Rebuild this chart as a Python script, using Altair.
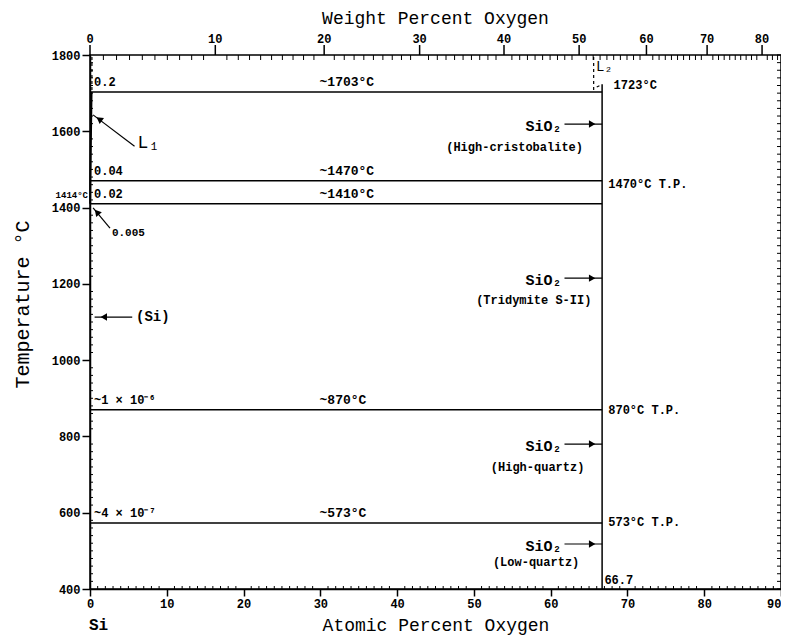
import altair as alt
import pandas as pd

FONT = "Liberation Mono"

# ---------------- data (at.% O, °C) ----------------
iso_T = [1703, 1470, 1410, 870, 573]          # invariant / transition lines
iso_x0 = [0, 0, 0, 0, 0]
iso_x1 = [66.7, 66.7, 66.7, 66.7, 66.7]
lab_left = ["0.2", "0.04", "0.02", "~1 × 10⁻⁶", "~4 × 10⁻⁷"]
lab_mid = ["~1703°C", "~1470°C", "~1410°C", "~870°C", "~573°C"]

sio2_x = [66.7, 66.7]
sio2_T = [400, 1723]

right_labels = ["1723°C", "1470°C T.P.", "870°C T.P.", "573°C T.P.", "66.7"]
right_x = [68.2, 67.5, 67.5, 67.5, 67.0]
right_T = [1721, 1462, 869, 576, 424]

# Si-side liquidus (L1)
liq_x = [0.2, 0.04, 0.02]
liq_T = [1703, 1470, 1410]

# dashed boundaries
dash_id = ["a", "a", "b", "b", "c", "c"]
dash_x = [0.25, 0.25, 65.6, 65.6, 66.0, 66.7]
dash_T = [1795, 1703, 1795, 1705, 1716, 1723]

# arrows (start -> end), heads
arr_x1 = [5.8, 2.6, 5.5, 61.8, 61.8, 61.8, 61.8]
arr_T1 = [1561, 1346, 1113, 1619, 1215, 780, 518]
arr_x2 = [0.4, 0.4, 0.6, 66.7, 66.7, 66.7, 66.7]
arr_T2 = [1643, 1399, 1113, 1619, 1215, 780, 518]
head_x = [1.2, 0.9, 1.8, 65.4, 65.4, 65.4, 65.4]
head_T = [1632, 1388, 1113, 1619, 1215, 780, 518]
head_angle = [306, 319, 270, 90, 90, 90, 90]

sio2_T_lab = [1619, 1215, 780, 518]
phase_names = ["(High-cristobalite)", "(Tridymite S-II)", "(High-quartz)", "(Low-quartz)"]
phase_x = [55.3, 57.8, 58.3, 58.1]
phase_T = [1559, 1158, 720, 471]

# ticks
x_major = list(range(0, 91, 10))
x_minor = [v for v in range(0, 91) if v % 10]
y_major = list(range(400, 1801, 200))
y_minor = [v for v in range(400, 1801, 20) if v % 200]
y_right = list(range(400, 1801, 20))
wt_major = list(range(0, 81, 10))
wt_minor = [v for v in range(1, 84) if v % 10]


def wt_to_at(w):
    return (w / 16.0) / ((w / 16.0) + (100.0 - w) / 28.0855) * 100.0


W, H = 691, 534
xs = alt.Scale(domain=[0, 90], nice=False, zero=False)
ys = alt.Scale(domain=[400, 1800], nice=False, zero=False)

AX = alt.Axis(
    values=x_major, format="d", tickSize=7, labelFontSize=12, labelPadding=2, labelFlush=False,
    labelAlign={"condition": {"test": "datum.value >= 90", "value": "right"}, "value": "center"},
    labelOverlap=False, title="Atomic Percent Oxygen", titleFontSize=18,
    titleFontWeight="normal", titleX=W / 2, titleY=36, titleBaseline="middle",
    grid=False)
AY = alt.Axis(
    values=y_major, format="d", tickSize=8, labelFontSize=12, labelPadding=2, labelFlush=False,
    labelOverlap=False, title="Temperature °C", titleFontSize=20,
    titleFontWeight="normal", titleX=-68, titleY=249, titleAngle=270,
    titleAlign="center", titleBaseline="middle", grid=False)


def X(f):
    return alt.X(f, scale=xs, axis=AX)


def Y(f):
    return alt.Y(f, scale=ys, axis=AY)


txt = dict(font=FONT, fontWeight="bold", color="black")

iso = pd.DataFrame({"x0": iso_x0, "x1": iso_x1, "T": iso_T, "left": lab_left, "mid": lab_mid})

lines = alt.Chart(iso).mark_rule(color="black", strokeWidth=1.5).encode(
    x=X("x0:Q"), x2="x1:Q", y=Y("T:Q"))

left_lab = alt.Chart(iso).mark_text(align="left", baseline="bottom", dx=4, dy=-3, fontSize=12, **txt).encode(
    x=X("x0:Q"), y=Y("T:Q"), text="left:N")
mid_lab = alt.Chart(iso.assign(xm=29.9)).mark_text(align="left", baseline="bottom", dy=-3, fontSize=13, **txt).encode(
    x=X("xm:Q"), y=Y("T:Q"), text="mid:N")

sio2 = alt.Chart(pd.DataFrame({"x": sio2_x, "T": sio2_T})).mark_line(color="black", strokeWidth=1.5).encode(
    x=X("x:Q"), y=Y("T:Q"))

liq = alt.Chart(pd.DataFrame({"x": liq_x, "T": liq_T})).mark_line(color="black", strokeWidth=2).encode(
    x=X("x:Q"), y=Y("T:Q"))

dash = alt.Chart(pd.DataFrame({"id": dash_id, "x": dash_x, "T": dash_T})).mark_line(
    color="black", strokeWidth=1.2, strokeDash=[3, 3]).encode(
    x=X("x:Q"), y=Y("T:Q"), detail="id:N")

right_lab = alt.Chart(pd.DataFrame({"x": right_x, "T": right_T, "t": right_labels})).mark_text(
    align="left", baseline="middle", fontSize=12, **txt).encode(
    x=X("x:Q"), y=Y("T:Q"), text="t:N")

arr = pd.DataFrame({"x1": arr_x1, "T1": arr_T1, "x2": arr_x2, "T2": arr_T2})
arrows = alt.Chart(arr).mark_rule(color="black", strokeWidth=1.2).encode(
    x=X("x1:Q"), x2="x2:Q", y=Y("T1:Q"), y2="T2:Q")
heads = alt.Chart(pd.DataFrame({"x": head_x, "T": head_T, "a": head_angle})).mark_point(
    shape="triangle-up", filled=True, color="black", size=55, opacity=1).encode(
    x=X("x:Q"), y=Y("T:Q"), angle=alt.Angle("a:Q", scale=None))

sio2_lab = alt.Chart(pd.DataFrame({"x": [61.4] * 4, "T": sio2_T_lab, "t": ["SiO₂"] * 4})).mark_text(
    align="right", baseline="middle", dy=2, fontSize=15, **txt).encode(
    x=X("x:Q"), y=Y("T:Q"), text="t:N")
phase_lab = alt.Chart(pd.DataFrame({"x": phase_x, "T": phase_T, "t": phase_names})).mark_text(
    align="center", baseline="middle", fontSize=12, **txt).encode(
    x=X("x:Q"), y=Y("T:Q"), text="t:N")

l1_lab = alt.Chart(pd.DataFrame({"x": [6.2], "T": [1569], "t": ["L₁"]})).mark_text(
    align="left", baseline="middle", fontSize=18, font=FONT, color="black").encode(
    x=X("x:Q"), y=Y("T:Q"), text="t:N")
p005_lab = alt.Chart(pd.DataFrame({"x": [2.85], "T": [1333], "t": ["0.005"]})).mark_text(
    align="left", baseline="middle", fontSize=11, **txt).encode(
    x=X("x:Q"), y=Y("T:Q"), text="t:N")
si_sol_lab = alt.Chart(pd.DataFrame({"x": [6.0], "T": [1113], "t": ["(Si)"]})).mark_text(
    align="left", baseline="middle", fontSize=14, **txt).encode(
    x=X("x:Q"), y=Y("T:Q"), text="t:N")
m1414 = alt.Chart(pd.DataFrame({"x": [0.0], "T": [1433], "t": ["1414°C"]})).mark_text(
    align="right", baseline="middle", dx=-2, fontSize=9, **txt).encode(
    x=X("x:Q"), y=Y("T:Q"), text="t:N")
si_lab = alt.Chart(pd.DataFrame({"x": [0.0], "T": [306], "t": ["Si"]})).mark_text(
    align="left", baseline="middle", dx=-1, fontSize=16, **txt).encode(
    x=X("x:Q"), y=Y("T:Q"), text="t:N")
l2 = alt.Chart(pd.DataFrame({"x": [65.9], "T": [1768], "t": ["L₂"]})).mark_text(
    align="left", baseline="middle", fontSize=14, font=FONT, color="black").encode(
    x=X("x:Q"), y=Y("T:Q"), text="t:N")

# minor ticks (inward)
bot_minor = alt.Chart(pd.DataFrame({"x": x_minor})).mark_rule(color="black", strokeWidth=1).encode(
    x=X("x:Q"), y=alt.value(H), y2=alt.value(H - 3))
left_minor = alt.Chart(pd.DataFrame({"T": y_minor})).mark_rule(color="black", strokeWidth=1).encode(
    y=Y("T:Q"), x=alt.value(0), x2=alt.value(3))
right_ticks = alt.Chart(pd.DataFrame({"T": y_right})).mark_rule(color="black", strokeWidth=1).encode(
    y=Y("T:Q"), x=alt.value(W), x2=alt.value(W - 4))

# top axis: weight percent oxygen
top_maj = pd.DataFrame({"w": wt_major, "x": [wt_to_at(w) for w in wt_major]})
top_min = pd.DataFrame({"x": [wt_to_at(w) for w in wt_minor]})
top_major_ticks = alt.Chart(top_maj).mark_rule(color="black", strokeWidth=1.5).encode(
    x=X("x:Q"), y=alt.value(0), y2=alt.value(-10))
top_minor_ticks = alt.Chart(top_min).mark_rule(color="black", strokeWidth=1).encode(
    x=X("x:Q"), y=alt.value(0), y2=alt.value(5))
top_labels = alt.Chart(top_maj).mark_text(baseline="bottom", fontSize=12, **txt).encode(
    x=X("x:Q"), y=alt.value(-9), text="w:Q")
top_title = alt.Chart(pd.DataFrame({"x": [45], "t": ["Weight Percent Oxygen"]})).mark_text(
    baseline="middle", fontSize=18, font=FONT, color="black").encode(
    x=X("x:Q"), y=alt.value(-36), text="t:N")

chart = alt.layer(
    lines, sio2, liq, dash, arrows, heads,
    left_lab, mid_lab, right_lab, sio2_lab, phase_lab,
    l1_lab, p005_lab, si_sol_lab, m1414, si_lab, l2,
    bot_minor, left_minor, right_ticks,
    top_major_ticks, top_minor_ticks, top_labels, top_title,
).properties(
    width=W, height=H,
    autosize=alt.AutoSizeParams(type="none"),
    padding={"left": 82, "top": 47, "right": 0, "bottom": 48},
).configure_view(stroke="black", strokeWidth=1.5).configure_axis(
    domainColor="black", domainWidth=1.5, tickColor="black", tickWidth=1.5,
    labelColor="black", labelFont=FONT, labelFontWeight="bold",
    titleColor="black", titleFont=FONT,
)

chart.save("out.html", embed_options={"renderer": "svg", "actions": False})
